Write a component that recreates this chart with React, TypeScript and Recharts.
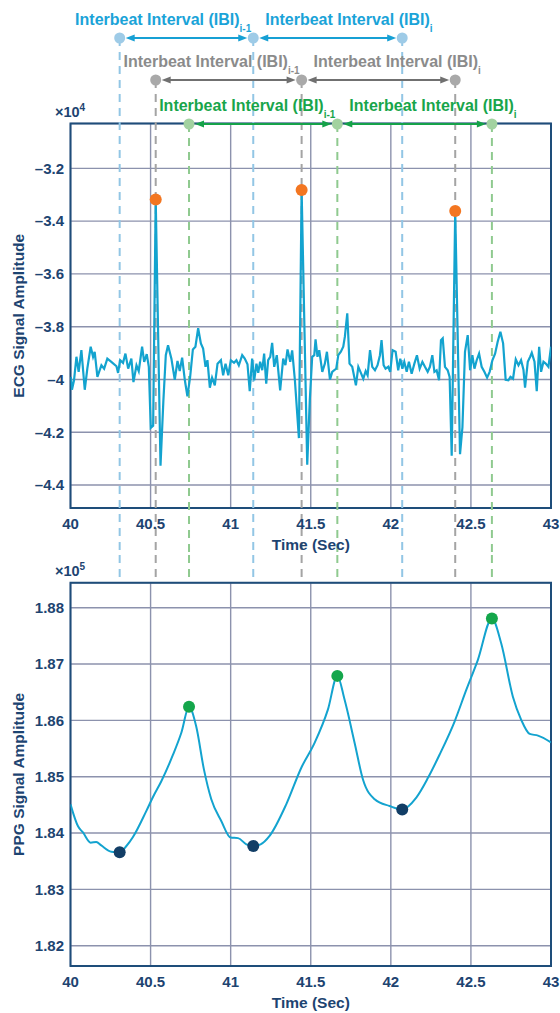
import React from 'react';
import {
  ComposedChart,
  Line,
  XAxis,
  YAxis,
  CartesianGrid,
  ReferenceLine,
  ReferenceDot,
  ReferenceArea,
} from 'recharts';

// ECG trace (values in units of 10^4)
const ecgTime = [
  40.002, 40.009, 40.022, 40.037, 40.051, 40.068, 40.089, 40.105, 40.126, 40.141, 40.151, 40.168, 40.193, 40.21,
  40.23, 40.255, 40.287, 40.297, 40.31, 40.328, 40.343, 40.36, 40.38, 40.393, 40.412, 40.426, 40.447, 40.46,
  40.476, 40.489, 40.501, 40.516, 40.532, 40.562, 40.58, 40.595, 40.609, 40.63, 40.651, 40.668, 40.682, 40.697,
  40.714, 40.73, 40.747, 40.764, 40.78, 40.797, 40.814, 40.828, 40.843, 40.855, 40.87, 40.884, 40.901, 40.918,
  40.939, 40.953, 40.968, 40.985, 41.001, 41.021, 41.036, 41.051, 41.072, 41.088, 41.105, 41.119, 41.134, 41.147,
  41.161, 41.172, 41.184, 41.197, 41.209, 41.222, 41.234, 41.247, 41.259, 41.272, 41.288, 41.309, 41.328, 41.342,
  41.355, 41.372, 41.384, 41.401, 41.426, 41.443, 41.478, 41.494, 41.509, 41.522, 41.53, 41.542, 41.553, 41.572,
  41.588, 41.601, 41.62, 41.634, 41.647, 41.659, 41.672, 41.688, 41.703, 41.713, 41.728, 41.742, 41.759, 41.782,
  41.797, 41.813, 41.828, 41.843, 41.855, 41.87, 41.884, 41.901, 41.917, 41.932, 41.942, 41.955, 41.967, 41.984,
  41.996, 42.011, 42.03, 42.046, 42.059, 42.072, 42.084, 42.099, 42.113, 42.13, 42.147, 42.163, 42.18, 42.197,
  42.213, 42.23, 42.244, 42.259, 42.272, 42.286, 42.301, 42.313, 42.324, 42.338, 42.355, 42.367, 42.38, 42.402,
  42.432, 42.447, 42.463, 42.48, 42.495, 42.509, 42.522, 42.536, 42.551, 42.567, 42.584, 42.601, 42.617, 42.634,
  42.651, 42.667, 42.684, 42.701, 42.717, 42.734, 42.747, 42.763, 42.78, 42.797, 42.813, 42.828, 42.838, 42.855,
  42.87, 42.88, 42.897, 42.911, 42.926, 42.938, 42.953, 42.967, 42.984, 43.0,
];
const ecgValue = [
  -3.99, -4.039, -4.003, -3.914, -3.971, -3.889, -4.039, -3.959, -3.876, -3.914, -3.895, -3.99, -3.946, -3.959,
  -3.921, -3.933, -3.95, -3.975, -3.927, -3.937, -3.902, -3.959, -3.921, -4.01, -3.946, -3.968, -3.876, -3.933,
  -3.904, -3.952, -4.183, -4.175, -3.318, -4.327, -4.079, -3.908, -3.87, -3.921, -4.001, -3.93, -3.968, -3.917,
  -4.003, -4.064, -3.99, -3.886, -3.876, -3.806, -3.863, -3.883, -3.952, -3.927, -4.031, -3.993, -4.022, -3.94,
  -3.927, -3.984, -3.94, -3.984, -3.927, -3.937, -3.927, -3.946, -3.908, -3.921, -3.942, -4.044, -3.921, -4.003,
  -3.94, -3.975, -3.933, -3.965, -3.902, -4.016, -3.927, -3.914, -3.861, -3.952, -3.908, -4.041, -3.921, -3.946,
  -3.886, -3.933, -3.89, -4.003, -4.222, -3.282, -4.323, -4.079, -3.914, -3.908, -3.848, -3.914, -3.889, -3.971,
  -3.94, -3.895, -4.001, -3.971, -3.965, -3.959, -3.908, -3.895, -3.876, -3.838, -3.749, -3.94, -3.952, -4.022,
  -3.952, -3.975, -3.997, -3.968, -3.984, -3.889, -3.952, -3.965, -3.946, -3.908, -3.851, -3.946, -3.959, -3.952,
  -3.971, -3.889, -3.895, -3.965, -3.921, -3.959, -3.933, -3.971, -3.933, -3.978, -3.94, -3.908, -3.959, -3.933,
  -3.952, -3.971, -3.952, -3.908, -3.971, -3.965, -4.003, -3.851, -3.844, -3.952, -3.965, -3.99, -4.289, -3.362,
  -4.283, -4.181, -3.895, -3.832, -3.965, -3.908, -3.959, -3.927, -3.902, -3.952, -3.971, -3.993, -3.971, -3.927,
  -3.902, -3.857, -3.819, -3.863, -4.001, -4.003, -3.99, -3.997, -3.924, -3.946, -3.927, -3.963, -4.031, -3.933,
  -3.914, -3.899, -3.933, -4.044, -3.876, -3.971, -3.933, -3.94, -3.952, -3.876,
];

// PPG trace (values in units of 10^5)
const ppgTime = [
  40.0, 40.047, 40.078, 40.126, 40.161, 40.192, 40.255, 40.307, 40.349, 40.39, 40.473, 40.515, 40.567, 40.64,
  40.692, 40.74, 40.785, 40.833, 40.879, 40.942, 41.0, 41.046, 41.098, 41.141, 41.187, 41.243, 41.347, 41.441,
  41.524, 41.607, 41.666, 41.711, 41.774, 41.826, 41.899, 41.992, 42.071, 42.159, 42.232, 42.304, 42.398, 42.471,
  42.543, 42.631, 42.689, 42.762, 42.814, 42.867, 42.919, 43.0,
];
const ppgValue = [
  1.8451, 1.8412, 1.8401, 1.8383, 1.8384, 1.8378, 1.8367, 1.8366, 1.8377, 1.8393, 1.8439, 1.8464, 1.8492, 1.8539,
  1.8578, 1.8624, 1.8589, 1.8513, 1.846, 1.8421, 1.8392, 1.8391, 1.838, 1.8377, 1.838, 1.8395, 1.8451, 1.8516,
  1.856, 1.8619, 1.8679, 1.8637, 1.856, 1.8495, 1.846, 1.8448, 1.8442, 1.8463, 1.8498, 1.8539, 1.8598, 1.8654,
  1.8707, 1.8781, 1.8737, 1.8642, 1.8601, 1.8576, 1.8573, 1.8561,
];

// detected events
const ppgMinTime = [40.307, 41.141, 42.071];
const ppgMinValue = [1.8366, 1.8377, 1.8442];
const ecgPeakTime = [40.532, 41.443, 42.402];
const ecgPeakValue = [-3.318, -3.282, -3.362];
const ppgPeakTime = [40.74, 41.666, 42.631];
const ppgPeakValue = [1.8624, 1.8679, 1.8781];

const timeTicks = [40, 40.5, 41, 41.5, 42, 42.5, 43];
const ecgTicks = [-4.4, -4.2, -4, -3.8, -3.6, -3.4, -3.2];
const ppgTicks = [1.82, 1.83, 1.84, 1.85, 1.86, 1.87, 1.88];
const intervalLabel = 'Interbeat Interval (IBI)';
const intervalSubs = ['i-1', 'i'];

const ecgData = ecgTime.map((t, i) => ({ t, v: ecgValue[i] }));
const ppgData = ppgTime.map((t, i) => ({ t, v: ppgValue[i] }));

const FONT = '"Liberation Sans", Arial, Helvetica, sans-serif';
const NAVY = '#1d4471';
const FRAME = '#1e4d7a';
const GRID = '#8c92ad';
const TRACE = '#13a3cf';

const rows = [
  { times: ppgMinTime, y: 38, text: '#1aa3d8', arrow: '#17a0d4', dot: '#9ecbe7', dash: '#92c6e5' },
  { times: ecgPeakTime, y: 80, text: '#8b8b8b', arrow: '#707070', dot: '#a9a9a9', dash: '#a4a4a4' },
  { times: ppgPeakTime, y: 124, text: '#18a54b', arrow: '#15a249', dot: '#a2d2a0', dash: '#8fca8f' },
];

const ECG_H = 555;
const PPG_H = 458;

const tickStyle = { fill: NAVY, fontSize: 15, fontWeight: 'bold', fontFamily: FONT };

function dashShape(row: any, top: number | null, bottom: number | null, withDot: boolean) {
  return (p: any) => (
    <g>
      <line
        x1={p.x1}
        x2={p.x1}
        y1={top === null ? row.y : top}
        y2={bottom === null ? p.y2 : bottom}
        stroke={row.dash}
        strokeWidth={2}
        strokeDasharray="8 6"
      />
      {withDot && <circle cx={p.x1} cy={row.y} r={5.5} fill={row.dot} />}
    </g>
  );
}

function arrowShape(row: any, k: number) {
  return (p: any) => {
    const a = p.x1;
    const b = p.x2;
    const y = row.y;
    const gap = 6;
    const head = 9;
    const hw = 3.5;
    return (
      <g>
        <line x1={a + gap + head - 1} x2={b - gap - head + 1} y1={y} y2={y} stroke={row.arrow} strokeWidth={2} />
        <polygon points={`${a + gap},${y} ${a + gap + head},${y - hw} ${a + gap + head},${y + hw}`} fill={row.arrow} />
        <polygon points={`${b - gap},${y} ${b - gap - head},${y - hw} ${b - gap - head},${y + hw}`} fill={row.arrow} />
        <text
          x={k === 0 ? b - 2 : a + 12}
          y={y - 13}
          textAnchor={k === 0 ? 'end' : 'start'}
          fill={row.text}
          fontSize={16}
          fontWeight="bold"
          fontFamily={FONT}
        >
          {intervalLabel}
          <tspan fontSize={10} dy={7}>
            {intervalSubs[k]}
          </tspan>
        </text>
      </g>
    );
  };
}

function yLabel(title: string, exp: string) {
  return (props: any) => {
    const vb = props.viewBox;
    const cy = vb.y + vb.height / 2;
    return (
      <g>
        <text
          x={24}
          y={cy}
          transform={`rotate(-90 24 ${cy})`}
          textAnchor="middle"
          fill={NAVY}
          fontSize={15.5}
          fontWeight="bold"
          fontFamily={FONT}
        >
          {title}
        </text>
        <text x={55} y={vb.y - 6.5} fill={NAVY} fontSize={14.5} fontWeight="bold" fontFamily={FONT}>
          ×10
          <tspan fontSize={10} dy={-6}>
            {exp}
          </tspan>
        </text>
      </g>
    );
  };
}

function xLabel(props: any) {
  const vb = props.viewBox;
  return (
    <text
      x={vb.x + vb.width / 2}
      y={vb.y + 41.5}
      textAnchor="middle"
      fill={NAVY}
      fontSize={15.5}
      fontWeight="bold"
      fontFamily={FONT}
    >
      Time (Sec)
    </text>
  );
}

const ecgDomain = [-4.487, -3.03];
const ppgDomain = [1.8164, 1.88444];

export default function App() {
  return (
    <div style={{ position: 'absolute', left: 0, top: 0, width: 560, height: 1013, background: '#fff' }}>
      <ComposedChart
        width={560}
        height={ECG_H}
        data={ecgData}
        margin={{ top: 123.5, right: 9, bottom: 0, left: 0 }}
      >
        <CartesianGrid stroke={GRID} strokeWidth={1.4} />
        <XAxis
          dataKey="t"
          type="number"
          domain={[40, 43]}
          ticks={timeTicks}
          allowDataOverflow
          axisLine={false}
          tickLine={false}
          tickSize={0}
          tickMargin={10}
          height={47}
          tick={tickStyle}
          label={xLabel}
        />
        <YAxis
          dataKey="v"
          type="number"
          domain={ecgDomain}
          ticks={ecgTicks}
          allowDataOverflow
          axisLine={false}
          tickLine={false}
          tickSize={0}
          tickMargin={6.5}
          width={70.5}
          tick={tickStyle}
          tickFormatter={(v: number) => String(v).replace('-', '\u2013')}
          label={yLabel('ECG Signal Amplitude', '4')}
        />
        <ReferenceArea
          x1={40}
          x2={43}
          y1={ecgDomain[0]}
          y2={ecgDomain[1]}
          fill="none"
          stroke={FRAME}
          strokeWidth={2}
          ifOverflow="visible"
        />
        {rows.map((row, ri) =>
          row.times.map((t, i) => (
            <ReferenceLine key={`d${ri}-${i}`} x={t} shape={dashShape(row, null, ECG_H, true)} />
          ))
        )}
        {rows.map((row, ri) =>
          [0, 1].map((k) => (
            <ReferenceLine
              key={`a${ri}-${k}`}
              segment={[
                { x: row.times[k], y: ecgTicks[ecgTicks.length - 1] },
                { x: row.times[k + 1], y: ecgTicks[ecgTicks.length - 1] },
              ]}
              shape={arrowShape(row, k)}
            />
          ))
        )}
        <Line dataKey="v" type="linear" stroke={TRACE} strokeWidth={2.2} dot={false} isAnimationActive={false} />
        {ecgPeakTime.map((t, i) => (
          <ReferenceDot key={`p${i}`} x={t} y={ecgPeakValue[i]} r={6} fill="#f37621" stroke="none" />
        ))}
      </ComposedChart>

      <ComposedChart
        width={560}
        height={PPG_H}
        data={ppgData}
        margin={{ top: 27.7, right: 9, bottom: 0, left: 0 }}
      >
        <CartesianGrid stroke={GRID} strokeWidth={1.4} />
        <XAxis
          dataKey="t"
          type="number"
          domain={[40, 43]}
          ticks={timeTicks}
          allowDataOverflow
          axisLine={false}
          tickLine={false}
          tickSize={0}
          tickMargin={10.5}
          height={47}
          tick={tickStyle}
          label={xLabel}
        />
        <YAxis
          dataKey="v"
          type="number"
          domain={ppgDomain}
          ticks={ppgTicks}
          allowDataOverflow
          axisLine={false}
          tickLine={false}
          tickSize={0}
          tickMargin={6.5}
          width={70.5}
          tick={tickStyle}
          tickFormatter={(v: number) => v.toFixed(2)}
          label={yLabel('PPG Signal Amplitude', '5')}
        />
        <ReferenceArea
          x1={40}
          x2={43}
          y1={ppgDomain[0]}
          y2={ppgDomain[1]}
          fill="none"
          stroke={FRAME}
          strokeWidth={2}
          ifOverflow="visible"
        />
        {rows.map((row, ri) =>
          row.times.map((t, i) => (
            <ReferenceLine key={`d${ri}-${i}`} x={t} shape={dashShape(row, 0, null, false)} />
          ))
        )}
        <Line dataKey="v" type="monotone" stroke={TRACE} strokeWidth={2} dot={false} isAnimationActive={false} />
        {ppgMinTime.map((t, i) => (
          <ReferenceDot key={`m${i}`} x={t} y={ppgMinValue[i]} r={6} fill="#123e66" stroke="none" />
        ))}
        {ppgPeakTime.map((t, i) => (
          <ReferenceDot key={`g${i}`} x={t} y={ppgPeakValue[i]} r={6} fill="#14a64b" stroke="none" />
        ))}
      </ComposedChart>
    </div>
  );
}
